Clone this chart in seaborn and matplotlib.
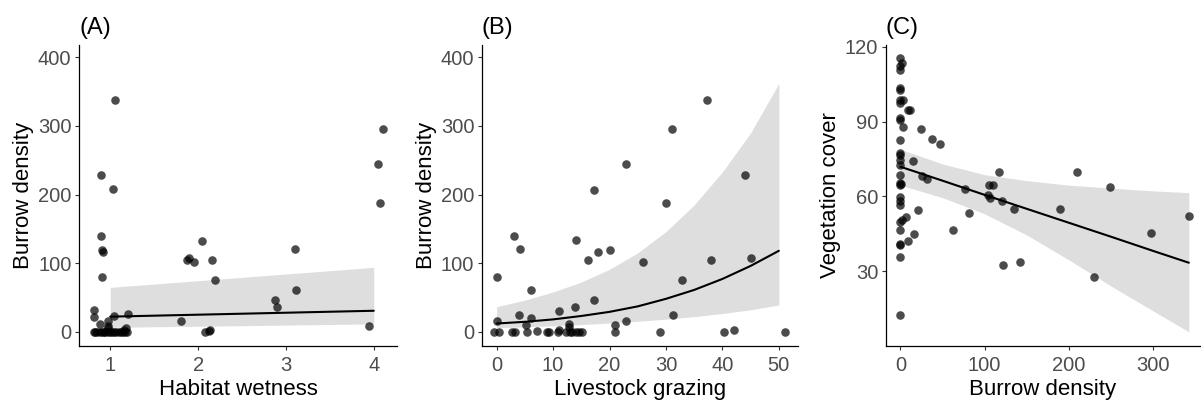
import matplotlib
matplotlib.use("Agg")
import matplotlib.pyplot as plt
import seaborn as sns
import pandas as pd

# ---------------- data ----------------
# Panel A: habitat wetness vs burrow density
wetness = [1.05, 0.89, 1.03, 0.89, 0.905, 0.92, 0.905, 0.81, 0.82, 0.88, 0.98, 0.98,
           1.04, 1.20, 1.16, 1.18, 0.98, 0.81, 0.83, 0.85, 0.88, 0.91, 0.93, 0.94, 0.97,
           1.00, 1.02, 1.04, 1.07, 1.10, 1.12, 1.14, 1.17, 1.19, 1.81, 1.87, 1.90, 1.95,
           2.04, 2.155, 2.19, 2.08, 2.13, 2.14, 2.875, 2.90, 3.10, 3.12, 3.95, 4.05, 4.075, 4.10]
burrow_a = [338, 228, 208, 140, 119, 116, 80, 31, 21, 11, 15, 5,
            23, 26, 3, 6, 8, 0, 0, 0, 0, 0, 0, 0, 0,
            0, 0, 0, 0, 0, 0, 0, 0, 0, 16, 105, 108, 102,
            133, 105, 75, 0, 1, 3, 46, 36, 120, 61, 9, 245, 187, 295]
fit_a_x = [1.0, 2.5, 4.0]
fit_a_y = [22.0, 26.3, 30.6]
fit_a_lo = [6.5, 8.8, 11.5]
fit_a_hi = [64.7, 79.3, 93.9]

# Panel B: livestock grazing vs burrow density
grazing = [0.1, 0.0, -0.4, 0.35, 3.1, 4.2, 4.0, 6.0, 6.0, 5.2, 2.8, 3.2, 5.3, 7.1, 8.9, 9.3,
           11.0, 11.0, 10.9, 12.2, 12.9, 12.8, 13.0, 13.4, 14.0, 14.6, 15.2, 13.9, 14.1,
           16.2, 17.2, 17.2, 17.9, 20.0, 21.0, 21.0, 23.0, 23.0, 26.0, 29.0, 30.0, 31.0,
           31.2, 32.8, 37.2, 38.0, 40.2, 42.0, 44.0, 45.0, 51.0]
burrow_b = [80, 16, 0, 0, 140, 120, 25, 61, 20, 10, 0, 0, 0, 1.5, 0, 0,
            30, 2, 0, 0, 11, 7, 0, 0, 0, 0, 0, 36, 134,
            105, 207, 46, 116, 119, 10, 0, 245, 15, 102, 0, 187, 295,
            24, 75, 338, 104, 0, 2, 228, 108, 0]
fit_b_x = [0, 5, 10, 15, 20, 25, 30, 35, 40, 45, 50]
fit_b_y = [12.0, 14.5, 18.0, 23.0, 29.0, 37.0, 48.0, 61.0, 77.0, 96.0, 118.0]
fit_b_lo = [6.0, 7.2, 8.7, 10.5, 12.7, 15.3, 18.4, 22.0, 26.6, 32.0, 39.0]
fit_b_hi = [36.5, 46.0, 58.0, 72.5, 91.0, 115.0, 146.0, 185.0, 233.0, 290.0, 362.0]

# Panel C: burrow density vs vegetation cover
burrow_c = [0, 2, 0, 0, 0, 0, 0, 3, 0, 9, 11, 0, 0, 3, 25, 37, 47, 0, 0, 0, 0, 15, 0, 0,
            26, 31.5, 0, 1, 0, 76.4, 117, 109.4, 105.5, 103.5, 106, 121, 135, 0, 0, 0,
            20.8, 81.8, 6.3, 2, 0, 0, 63, 16.5, 9, 0, 0, 0, 122, 142, 189, 210, 230,
            248, 297.5, 342, 0]
veg_cover = [115.3, 113.3, 112.4, 110.6, 103.3, 102.6, 98.6, 98.6, 97.3, 94.6, 94.6, 91.3,
             90.6, 87.9, 87.0, 83.0, 81.2, 82.6, 77.2, 76.5, 74.5, 74.0, 72.5, 68.5,
             68.2, 67.0, 65.2, 64.8, 64.5, 62.8, 69.9, 64.5, 64.5, 60.5, 59.2, 58.1, 54.9,
             59.8, 58.1, 56.5, 54.4, 53.2, 51.8, 50.7, 49.8, 46.5, 46.5, 44.8, 42.1, 41.1,
             40.4, 35.8, 32.5, 33.8, 54.9, 69.9, 27.5, 63.6, 45.4, 52.1, 12.6]
fit_c_x = [0, 50, 100, 150, 200, 250, 300, 342]
fit_c_y = [71.9, 66.3, 60.6, 55.0, 49.4, 43.8, 38.1, 33.4]
fit_c_lo = [64.5, 59.5, 53.0, 44.5, 34.5, 24.0, 14.0, 5.7]
fit_c_hi = [78.9, 73.0, 68.7, 66.3, 64.5, 63.3, 62.2, 61.5]

panel_labels = ["(A)", "(B)", "(C)"]
x_titles = ["Habitat wetness", "Livestock grazing", "Burrow density"]
y_titles = ["Burrow density", "Burrow density", "Vegetation cover"]

# ---------------- style ----------------
sns.set_style("ticks")
plt.rcParams["font.family"] = ["Liberation Sans", "DejaVu Sans"]

fig = plt.figure(figsize=(12.01, 4.03), dpi=100)
positions = [[0.0658, 0.1414, 0.2648, 0.7469],
             [0.4013, 0.1414, 0.2632, 0.7469],
             [0.7377, 0.1414, 0.2613, 0.7469]]
axes = [fig.add_axes(p) for p in positions]

panels = [
    (wetness, burrow_a, fit_a_x, fit_a_y, fit_a_lo, fit_a_hi),
    (grazing, burrow_b, fit_b_x, fit_b_y, fit_b_lo, fit_b_hi),
    (burrow_c, veg_cover, fit_c_x, fit_c_y, fit_c_lo, fit_c_hi),
]

band_color = "#DEDEDE"
for ax, (px, py, fx, fy, flo, fhi) in zip(axes, panels):
    ax.fill_between(fx, flo, fhi, color=band_color, linewidth=0, zorder=1)
    pts = pd.DataFrame({"x": px, "y": py})
    sns.scatterplot(data=pts, x="x", y="y", ax=ax, color="black", alpha=0.7,
                    s=38, linewidth=0, zorder=2)
    fit = pd.DataFrame({"x": fx, "y": fy})
    sns.lineplot(data=fit, x="x", y="y", ax=ax, color="black", linewidth=1.5,
                 zorder=3)

axes[0].set_xlim(0.645, 4.265)
axes[0].set_xticks([1, 2, 3, 4])
axes[1].set_xlim(-2.6, 53.4)
axes[1].set_xticks([0, 10, 20, 30, 40, 50])
axes[2].set_xlim(-17, 355)
axes[2].set_xticks([0, 100, 200, 300])
for ax in axes[:2]:
    ax.set_ylim(-20.8, 418)
    ax.set_yticks([0, 100, 200, 300, 400])
axes[2].set_ylim(0.0, 120.7)
axes[2].set_yticks([30, 60, 90, 120])

for ax, lab, xt, yt in zip(axes, panel_labels, x_titles, y_titles):
    sns.despine(ax=ax)
    ax.set_xlabel(xt, fontsize=16, color="black", labelpad=3)
    ax.set_ylabel(yt, fontsize=16, color="black", labelpad=3)
    ax.tick_params(axis="both", labelsize=14.5, labelcolor="#4D4D4D", color="#333333",
                   length=3, width=0.8)
    ax.tick_params(axis="x", pad=4)
    ax.tick_params(axis="y", pad=2.5)
    for s in ["left", "bottom"]:
        ax.spines[s].set_linewidth(0.9)
        ax.spines[s].set_color("black")
    ax.text(0.0, 1.035, lab, transform=ax.transAxes, fontsize=17, color="black",
            ha="left", va="baseline")

fig.savefig("out.png", dpi=100)
